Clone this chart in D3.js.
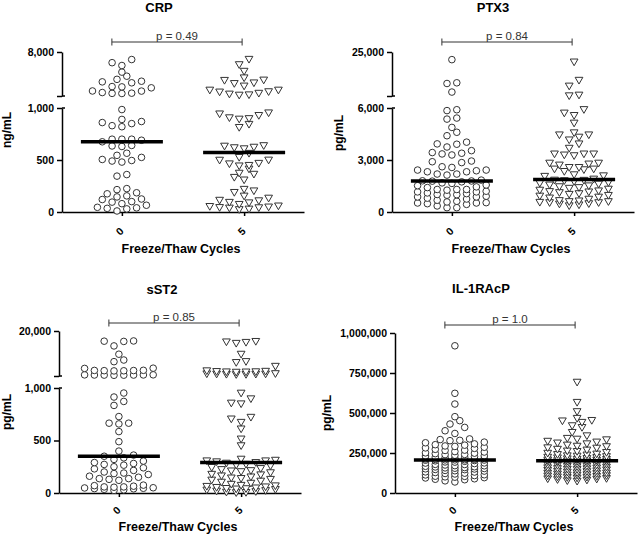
<!DOCTYPE html>
<html>
<head>
<meta charset="utf-8">
<script src="https://cdn.jsdelivr.net/npm/d3@7"></script>
<style>
  body { margin: 0; background: #fff; }
  svg text { font-family: "Liberation Sans", Arial, Helvetica, sans-serif; }
</style>
</head>
<body>
<div id="chart"></div>
<script>
// freeze/thaw cycle groups
const cycles = ["0", "5"];

const analytes = ["CRP", "PTX3", "sST2", "IL-1RAcP"];
const units = ["ng/mL", "pg/mL", "pg/mL", "pg/mL"];
const pLabels = ["p = 0.49", "p = 0.84", "p = 0.85", "p = 1.0"];
const xTitle = "Freeze/Thaw Cycles";

// y tick values (the last one sits on the upper segment when the axis is broken)
const crpTicks = [0, 500, 1000, 8000];
const ptx3Ticks = [0, 3000, 6000, 25000];
const sst2Ticks = [0, 500, 1000, 20000];
const il1racpTicks = [0, 250000, 500000, 750000, 1000000];
const axisBreaks = [1000, 6000, 1000, null];

// values
const crp0 = [6800, 6300, 5850, 4800, 4150, 3650, 3350, 3250, 3100, 2500, 2450, 2300, 1800, 1780, 1550, 1450, 1420, 1400,
  985, 890, 870, 860, 850, 830, 820, 700, 700, 700, 690, 675, 640, 635, 630, 565, 545, 525, 505, 495, 490, 480,
  360, 345, 225, 215, 185, 175, 155, 145, 125, 120, 100, 95, 80, 65, 45, 40, 35, 30, 10];
const crp5 = [6950, 6100, 5050, 4000, 3650, 3600, 3200, 3100, 2700, 2050, 2050, 1800, 1750, 1550, 1420, 1300, 1250,
  960, 950, 935, 913, 905, 900, 850, 820, 645, 640, 630, 625, 615, 571, 532, 506, 505, 475, 470, 455, 450,
  420, 380, 370, 340, 315, 225, 210, 195, 160, 140, 120, 115, 100, 95, 80, 65, 60, 55, 50, 48, 45, 35, 30];

const ptx30 = [21700, 11700, 11400, 7700,
  5900, 5850, 5420, 5360, 4880, 4600, 4400, 4030, 3930, 3910, 3750, 3540, 3430, 3390, 3350, 3290,
  2940, 2900, 2850, 2610, 2570, 2420, 2420, 2380, 2320, 2320, 2190, 2190, 2130, 1840, 1800, 1790, 1780,
  1740, 1680, 1650, 1560, 1520, 1450, 1410, 1300, 1300, 1300, 1260, 1200, 1160, 1160, 1100, 1060, 1010,
  1000, 970, 910, 870, 870, 800, 750, 680, 620, 580, 540, 520, 520, 480, 440, 350, 250, 250];
const ptx35 = [21000, 13100, 10600, 6700, 6400,
  5950, 5750, 5610, 5170, 4610, 4490, 4490, 4360, 4200, 3970, 3720, 3390, 3390, 3390, 3330, 3290,
  2860, 2860, 2810, 2750, 2610, 2610, 2520, 2520, 2480, 2380, 2190, 2130, 2100, 1940, 1880, 1870, 1850, 1800,
  1740, 1700, 1650, 1600, 1550, 1500, 1450, 1410, 1360, 1300, 1260, 1220, 1200, 1160, 1100, 1060, 1000,
  960, 900, 850, 780, 700, 680, 640, 640, 600, 580, 580, 520, 500, 450, 400];

const sst20 = [15800, 15700, 15600, 13700, 10200, 7750, 7050, 4300, 4200, 3400, 3350, 3300, 3250, 3200, 3150,
  1500, 1480, 1450, 1420, 1400, 1380, 1350, 1300,
  952, 914, 872, 834, 728, 665, 665, 658, 585, 489, 399, 361, 350, 335, 320, 304, 290, 281, 272, 265,
  250, 240, 230, 215, 200, 190, 185, 176, 160, 150, 137, 137, 130, 121,
  75, 70, 65, 58, 58, 55, 50, 48, 45, 42, 40, 35, 30, 25];
const sst25 = [15900, 15700, 15500, 15100, 10500, 7400, 7000, 5400, 3500, 3300, 3200, 3100, 3050, 3000, 2900,
  2300, 2200, 2150, 2100, 2050, 2000, 1950, 1900,
  958, 904, 863, 856, 728, 712, 680, 617, 521, 457, 329, 319, 313, 313, 304, 297, 291, 280, 272, 265,
  250, 240, 230, 220, 217, 210, 200, 185, 180, 170, 160, 150, 145, 137, 130, 120, 110, 100, 90, 80,
  75, 70, 65, 60, 55, 50, 48, 45, 40, 35, 30, 25, 20, 15, 12, 10];

const il1racp0 = [920000, 623000, 556000, 477000, 452000, 431000, 410000, 389000, 372000,
  338000, 334000, 329000, 327000, 318000, 314000, 307000, 302000,
  299000, 294000, 291000, 286000, 282000, 279000, 273000, 268000, 266000, 259000, 256000, 251000,
  249000, 246000, 241000, 240000, 236000, 232000, 231000, 227000, 224000, 223000, 219000, 217000, 216000,
  213000, 211000, 210000, 208000, 207000, 207000, 206000, 205000, 203000, 201000,
  198000, 194000, 193000, 188000, 187000, 184000, 179000, 178000, 175000, 171000, 170000, 167000, 164000,
  163000, 159000, 157000, 155000, 153000, 151000, 150000,
  147000, 146000, 141000, 139000, 137000, 132000, 131000, 128000, 124000, 122000, 119000, 114000, 113000,
  109000, 105000, 104000, 101000, 99000, 96000, 94000, 89000, 86000, 83000, 76000, 69000];
const il1racp5 = [697000, 571000, 513000, 471000, 458000, 455000, 446000, 425000, 414000, 383000, 362000,
  346000, 341000, 337000, 328000, 323000, 317000, 312000, 304000,
  297000, 294000, 287000, 285000, 278000, 273000, 267000, 264000, 258000, 253000,
  248000, 245000, 242000, 237000, 235000, 232000, 228000, 226000, 224000, 220000, 218000, 215000, 214000,
  211000, 209000, 206000, 205000, 203000, 202000, 201000,
  199000, 197000, 195000, 191000, 188000, 186000, 184000, 181000, 179000, 177000, 173000, 171000, 169000,
  166000, 162000, 161000, 157000, 156000, 153000, 151000,
  149000, 146000, 143000, 140000, 138000, 135000, 131000, 129000, 128000, 126000, 123000, 119000, 117000,
  116000, 113000, 111000, 108000, 105000, 103000, 101000, 98000, 95000, 93000, 91000, 88000, 85000, 81000, 78000];

const groupValues = [[crp0, crp5], [ptx30, ptx35], [sst20, sst25], [il1racp0, il1racp5]];
const tickSets = [crpTicks, ptx3Ticks, sst2Ticks, il1racpTicks];

// panel geometry
const layouts = [
  { ax: 62, y0: 212, yLowTop: 108, yUpBot: 96, yTop: 52, titleX: 159, titleY: 12, unitX: 11, unitY: 130, xTitleY: 253, labelDy: 19, bracketY: 42, maxRow: 8 },
  { ax: 392, y0: 212, yLowTop: 108, yUpBot: 96, yTop: 52, titleX: 493, titleY: 12, unitX: 343, unitY: 133, xTitleY: 253, labelDy: 19, bracketY: 42, maxRow: 8 },
  { ax: 59, y0: 493, yLowTop: 388, yUpBot: 376, yTop: 331, titleX: 162, titleY: 294, unitX: 11, unitY: 412, xTitleY: 531, labelDy: 17, bracketY: 323, maxRow: 8 },
  { ax: 395, y0: 493, yTop: 333, titleX: 481, titleY: 293, unitX: 331, unitY: 413, xTitleY: 531, labelDy: 17, bracketY: 325, maxRow: 7 }
];

const fmt = d3.format(",");

class DotPlot {
    constructor(svg, i) {
        this.svg = svg;
        this.title = analytes[i];
        this.unit = units[i];
        this.pLabel = pLabels[i];
        this.values = groupValues[i];
        this.ticks = tickSets[i];
        this.brk = axisBreaks[i];
        this.lay = layouts[i];
        this.step = 9.8;
    }

    makeY() {
        const L = this.lay, top = this.ticks[this.ticks.length - 1];
        if (this.brk == null) {
            const s = d3.scaleLinear().domain([0, top]).range([L.y0, L.yTop]);
            this.lower = s;
            this.y = v => s(v);
            return;
        }
        this.lower = d3.scaleLinear().domain([0, this.brk]).range([L.y0, L.yLowTop]);
        this.upper = d3.scaleLinear().domain([this.brk, top]).range([L.yUpBot, L.yTop]);
        this.y = v => v <= this.brk ? this.lower(v) : this.upper(v);
    }

    // GraphPad-like rows: neighbouring values share a row, centred on the group
    layout(values, cx) {
        const pts = values.map(v => ({ v, py: this.y(v) })).sort((a, b) => a.v - b.v);
        const rows = [];
        let row = null;
        pts.forEach(p => {
            if (!row || row[0].py - p.py >= 6.5 || row.length >= this.lay.maxRow) {
                row = [];
                rows.push(row);
            }
            row.push(p);
        });
        rows.forEach(r => {
            const n = r.length;
            const offs = d3.range(n).map(i => i - (n - 1) / 2)
                .sort((a, b) => Math.abs(a) - Math.abs(b) || a - b);
            r.forEach((p, i) => { p.px = cx + offs[i] * this.step; });
        });
        return pts;
    }

    styleAxis(g) {
        g.select(".domain").attr("stroke", "#000").attr("stroke-width", 1.5);
        g.selectAll(".tick line").attr("stroke", "#000").attr("stroke-width", 1.5);
        g.selectAll(".tick text").attr("fill", "#000").attr("font-size", "10.5px").attr("font-weight", "bold");
    }

    draw() {
        const L = this.lay;
        this.makeY();
        const g = this.svg.append("g");
        const x = d3.scalePoint().domain(cycles).range([L.ax, L.ax + 242]).padding(0.49);

        // y axis (two segments when broken)
        const top = this.ticks[this.ticks.length - 1];
        const lowTicks = this.brk == null ? this.ticks : this.ticks.filter(t => t <= this.brk);
        const ly = g.append("g").attr("transform", `translate(${L.ax},0)`)
            .call(d3.axisLeft(this.lower).tickValues(lowTicks).tickFormat(fmt).tickSize(5).tickSizeOuter(0).tickPadding(3));
        this.styleAxis(ly);
        if (this.brk != null) {
            const uy = g.append("g").attr("transform", `translate(${L.ax},0)`)
                .call(d3.axisLeft(this.upper).tickValues([this.brk, top])
                    .tickFormat(d => d === top ? fmt(d) : "").tickSize(5).tickSizeOuter(0).tickPadding(3));
            this.styleAxis(uy);
            g.append("line").attr("x1", L.ax).attr("x2", L.ax + 3)
                .attr("y1", this.upper(this.brk)).attr("y2", this.upper(this.brk))
                .attr("stroke", "#000").attr("stroke-width", 1.5);
            g.append("line").attr("x1", L.ax).attr("x2", L.ax + 3)
                .attr("y1", this.lower(this.brk)).attr("y2", this.lower(this.brk))
                .attr("stroke", "#000").attr("stroke-width", 1.5);
        }

        // x axis
        const xa = g.append("g").attr("transform", `translate(0,${L.y0})`)
            .call(d3.axisBottom(x).tickSize(4).tickSizeOuter(0));
        this.styleAxis(xa);
        xa.selectAll(".tick text")
            .attr("y", null).attr("dy", null)
            .attr("text-anchor", "middle").attr("dominant-baseline", "central")
            .attr("transform", `translate(-3,${L.labelDy}) rotate(-45)`);

        // points
        const triangle = d3.symbol(d3.symbolTriangle, 26)();
        cycles.forEach((c, k) => {
            const pts = this.layout(this.values[k], x(c));
            if (k === 0) {
                g.append("g").selectAll("circle").data(pts).enter().append("circle")
                    .attr("cx", d => d.px).attr("cy", d => d.py).attr("r", 3.3)
                    .attr("fill", "#fff").attr("stroke", "#333").attr("stroke-width", 1);
            } else {
                g.append("g").selectAll("path").data(pts).enter().append("path")
                    .attr("d", triangle)
                    .attr("transform", d => `translate(${d.px},${d.py}) rotate(180)`)
                    .attr("fill", "#fff").attr("stroke", "#333").attr("stroke-width", 1);
            }
        });

        // medians
        cycles.forEach((c, k) => {
            const m = this.y(d3.median(this.values[k]));
            g.append("line").attr("x1", x(c) - 41).attr("x2", x(c) + 41)
                .attr("y1", m).attr("y2", m).attr("stroke", "#000").attr("stroke-width", 3.5);
        });

        // p-value bracket
        const bx1 = x(cycles[0]) - 10, bx2 = x(cycles[1]) - 2;
        const br = g.append("g").attr("stroke", "#333").attr("stroke-width", 1);
        br.append("line").attr("x1", bx1).attr("x2", bx2).attr("y1", L.bracketY).attr("y2", L.bracketY);
        [bx1, bx2].forEach(bx => br.append("line").attr("x1", bx).attr("x2", bx)
            .attr("y1", L.bracketY - 3.5).attr("y2", L.bracketY + 3.5));
        g.append("text").attr("x", (bx1 + bx2) / 2).attr("y", L.bracketY - 2.5)
            .attr("text-anchor", "middle").attr("font-size", "11.5px").attr("fill", "#333")
            .text(this.pLabel);

        // titles
        g.append("text").attr("x", L.titleX).attr("y", L.titleY)
            .attr("text-anchor", "middle").attr("font-size", "13px").attr("font-weight", "bold")
            .text(this.title);
        g.append("text").attr("transform", `translate(${L.unitX},${L.unitY}) rotate(-90)`)
            .attr("text-anchor", "middle").attr("font-size", "12px").attr("font-weight", "bold")
            .text(this.unit);
        g.append("text").attr("x", L.ax + 119).attr("y", L.xTitleY)
            .attr("text-anchor", "middle").attr("font-size", "12.5px").attr("font-weight", "bold")
            .text(xTitle);
    }
}

const svg = d3.select("#chart").append("svg")
    .attr("width", 638).attr("height", 535)
    .style("background", "#fff");

analytes.forEach((a, i) => new DotPlot(svg, i).draw());
</script>
</body>
</html>
